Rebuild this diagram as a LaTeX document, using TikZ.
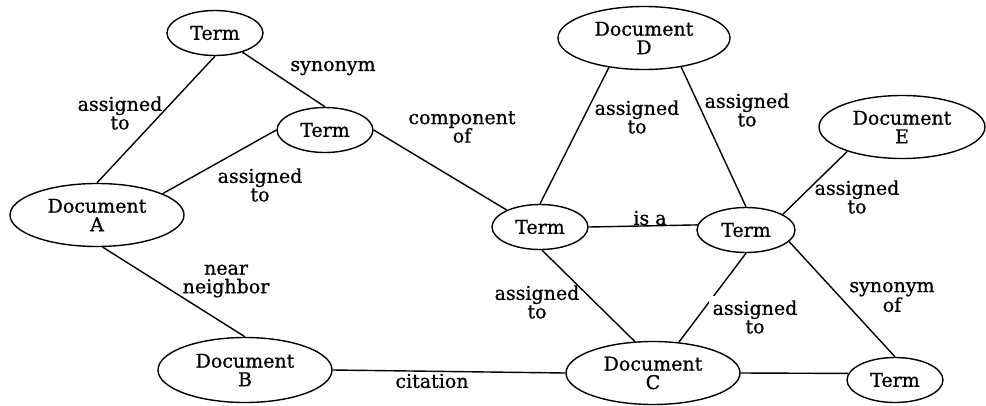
\documentclass[tikz,border=0pt]{standalone}
\usepackage{fontspec}
\setmainfont[FakeBold=0.8]{DejaVu Serif}
\usetikzlibrary{shapes.geometric}
\begin{document}
\begin{tikzpicture}[x=1pt,y=-1pt,
  every node/.style={font=\fontsize{19}{18.5}\selectfont},
  ent/.style={draw, ellipse, line width=1.4pt, inner sep=0pt, align=center},
  term/.style={ent, minimum width=96pt, minimum height=45pt},
  doc/.style={ent, minimum width=172pt, minimum height=63pt},
  lbl/.style={align=center, inner sep=1pt},
  link/.style={line width=1.4pt}]
\useasboundingbox[fill=white] (0,0) rectangle (986,405);

% entities
\node[term] (t1) at (215,33) {Term};
\node[term] (t2) at (325,130) {Term};
\node[term] (t3) at (540,227) {Term};
\node[term, minimum width=98pt] (t4) at (746,230) {Term};
\node[term] (t5) at (895,380) {Term};
\node[doc, minimum width=174pt] (da) at (97,215) {Document\\A};
\node[doc, minimum width=174pt, minimum height=65pt] (db) at (245,370) {Document\\B};
\node[doc, minimum width=174pt] (dc) at (653,373) {Document\\C};
\node[doc] (dd) at (644,38) {Document\\D};
\node[doc, minimum width=166pt] (de) at (902,127) {Document\\E};

% relations
\draw[link] (t1.south) -- (da.north);
\draw[link] (t1.-35) -- (t2.north);
\draw[link] (t2.west) -- (da.18);
\draw[link] (t2.east) -- (t3.153);
\draw[link] (da.-80) -- (db.north);
\draw[link] (db.east) -- (dc.west);
\draw[link] (dd.-140) -- (t3.north);
\draw[link] (dd.-38) -- (t4.north);
\draw[link] (de.-156) -- (t4.23);
\draw[link] (t3.east) -- (t4.174);
\draw[link] (t3.-85) -- (dc.120);
\draw[link] (t4.south) -- (dc.50);
\draw[link] (t4.-15) -- (t5.north);
\draw[link] (dc.east) -- (t5.172);

% relation labels
\node[lbl] (l1) at (120,113) {assigned\\to};
\node[lbl] (l2) at (333,68) {synonym};
\node[lbl] (l3) at (260,185) {assigned\\to};
\node[lbl] (l4) at (462,127) {component\\of};
\node[lbl] (l5) at (226,281) {near\\neighbor};
\node[lbl] (l6) at (432,381) {citation};
\node[lbl] (l7) at (637,117) {assigned\\to};
\node[lbl] (l8) at (747,110) {assigned\\to};
\node[lbl] (l9) at (857,197) {assigned\\to};
\node[lbl] (l10) at (650,218) {is a};
\node[lbl] (l11) at (537,302) {assigned\\to};
\node[lbl, fill=white, inner sep=4pt] (l12) at (755,317) {assigned\\to};
\node[lbl] (l13) at (892,297) {synonym\\of};
\end{tikzpicture}
\end{document}
